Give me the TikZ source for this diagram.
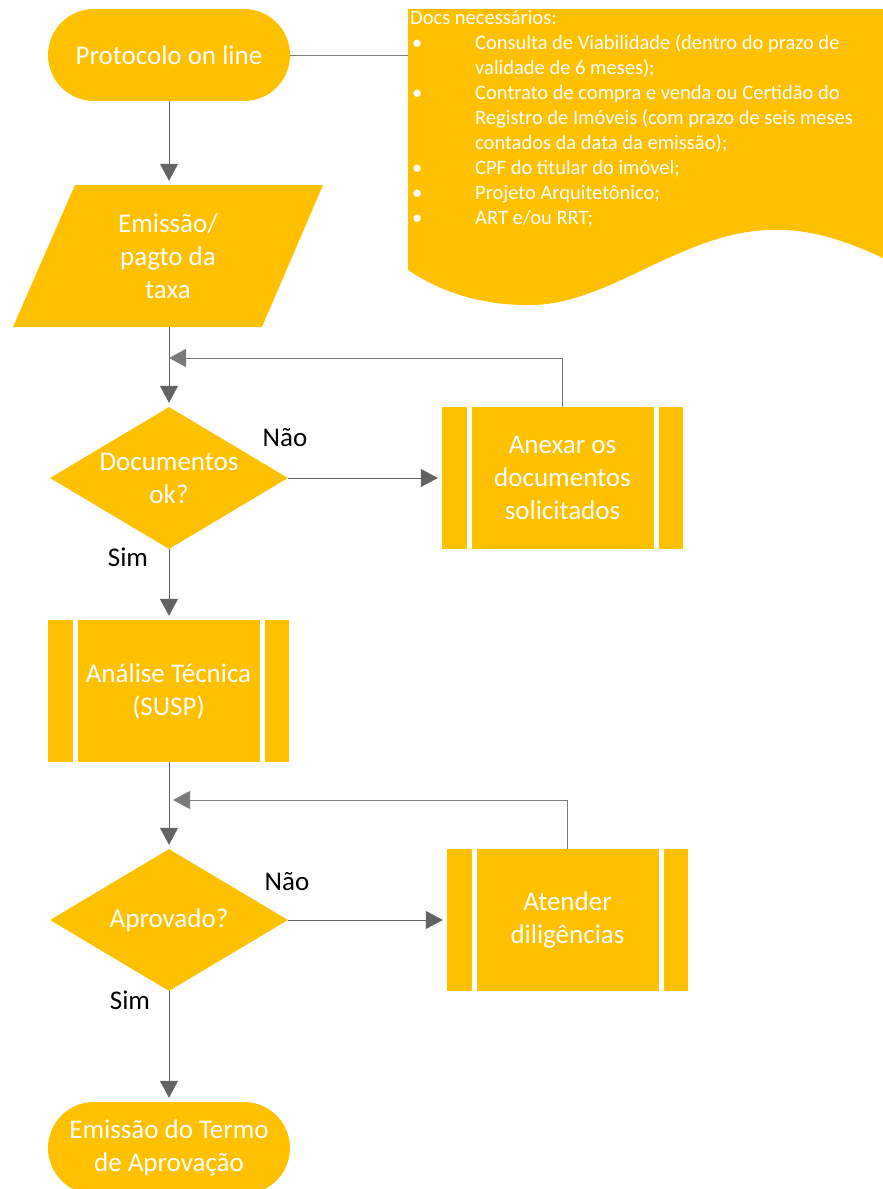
\documentclass[tikz,border=0pt]{standalone}
\usepackage{fontspec}
\setmainfont{Carlito}
\usepackage{tikz}
\usetikzlibrary{arrows.meta,positioning,calc,shapes.geometric}
\definecolor{amarelo}{HTML}{FFC000}
\definecolor{seta}{HTML}{636363}
\definecolor{fio}{HTML}{7A7A7A}
\newcommand{\figbig}{\fontsize{27}{33}\selectfont}
\newcommand{\figlbl}{\fontsize{27}{30}\selectfont}
\newcommand{\figdoc}{\fontsize{20.5}{25}\selectfont}
\newcommand{\bul}{\hspace*{2pt}\makebox[63pt][l]{•}}
\newcommand{\cont}{\hspace*{65pt}}
\tikzset{
  >={Triangle[length=17pt,width=18pt]},
  term/.style  ={rectangle, rounded corners=46pt, fill=amarelo, text=white,
                 minimum width=242pt, minimum height=92pt, inner sep=2pt,
                 font=\figbig, align=center},
  entrada/.style={rectangle, text=white, minimum width=248pt,
                 minimum height=142pt, inner sep=0pt,
                 font=\figbig, align=center},
  dec/.style   ={diamond, aspect=1.68, fill=amarelo, text=white,
                 minimum width=238pt, minimum height=142pt, inner sep=1pt,
                 font=\figbig, align=center},
  sub/.style   ={rectangle, fill=amarelo, text=white,
                 minimum width=241pt, minimum height=142pt, inner sep=2pt,
                 font=\figbig, align=center,
                 path picture={
                   \draw[white, line width=5pt]
                     ([xshift=27pt]path picture bounding box.north west) --
                     ([xshift=27pt]path picture bounding box.south west);
                   \draw[white, line width=5pt]
                     ([xshift=-27pt]path picture bounding box.north east) --
                     ([xshift=-27pt]path picture bounding box.south east);}},
  lista/.style ={inner sep=0pt, text=white, font=\figdoc, align=left},
  con/.style   ={->, draw=seta, line width=1pt, shorten >=4pt},
  ret/.style   ={->, draw=fio, line width=1pt},
  fino/.style  ={draw=fio, line width=1pt},
  lbl/.style   ={font=\figlbl, text=black, inner sep=1pt},
}
\begin{document}
\begin{tikzpicture}[x=1pt,y=-1pt]
\useasboundingbox (0,0) rectangle (883,1189);
\fill[amarelo] (408,9) -- (900,9) -- (900,266) -- (883,258)
  .. controls (840,238) and (805,228) .. (767,230)
  .. controls (680,234) and (610,303) .. (533,305)
  .. controls (475,306) and (435,288) .. (408,270) -- cycle;
\fill[amarelo] (75,185) -- (323,185) -- (262,327) -- (13,327) -- cycle;
\node[inner sep=0pt, minimum width=475pt, minimum height=261pt] (docs) at (645.5,139.5) {};
\node[lista, anchor=north west] (lista) at (410,10) {Docs necessários:\\
  \bul Consulta de Viabilidade (dentro do prazo de\\
  \cont validade de 6 meses);\\
  \bul Contrato de compra e venda ou Certidão do\\
  \cont Registro de Imóveis (com prazo de seis meses\\
  \cont contados da data da emissão);\\
  \bul CPF do titular do imóvel;\\
  \bul Projeto Arquitetônico;\\
  \bul ART e/ou RRT;};
\node[term]    (prot)    at (169,55)    {Protocolo on line};
\node[entrada] (taxa)    at (168,256)   {Emissão/\\pagto da\\taxa};
\node[dec]     (ok1)     at (169,478)   {Documentos\\ok?};
\node[sub]     (anexar)  at (562.5,478) {Anexar os\\documentos\\solicitados};
\node[sub]     (analise) at (168.5,691) {Análise Técnica\\(SUSP)};
\node[dec]     (ok2)     at (169,920)   {Aprovado?};
\node[sub]     (atender) at (567.5,920) {Atender\\diligências};
\node[term]    (fim)     at (169,1148)  {Emissão do Termo\\de Aprovação};
\node[lbl] (nao1) at (285,438)  {Não};
\node[lbl] (sim1) at (128,557)  {Sim};
\node[lbl] (nao2) at (287,882)  {Não};
\node[lbl] (sim2) at (130,1000) {Sim};
\coordinate (j1) at (169,358);
\coordinate (j2) at (173,800);
\draw[fino] (prot.east) -- (prot.east -| docs.west);
\draw[con] (prot.south) -- (taxa.north -| prot.south);
\draw[con] (ok1.north |- taxa.south) -- (ok1.north);
\draw[ret] (anexar.north) |- (j1);
\draw[con] (ok1.east) -- (anexar.west);
\draw[con] (ok1.south) -- (analise.north -| ok1.south);
\draw[con] (ok2.north |- analise.south) -- (ok2.north);
\draw[ret] (atender.north) |- (j2);
\draw[con] (ok2.east) -- (atender.west);
\draw[con] (ok2.south) -- (fim.north);
\end{tikzpicture}
\end{document}
